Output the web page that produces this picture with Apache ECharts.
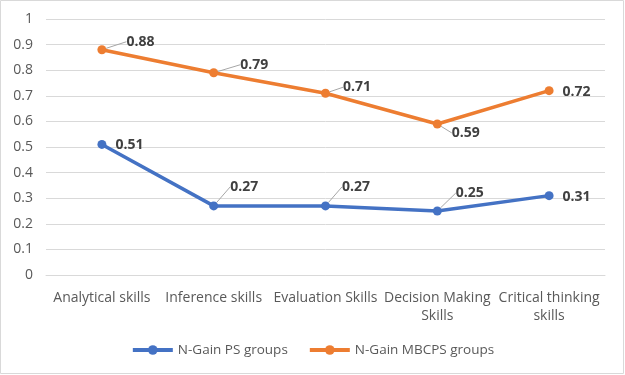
<!DOCTYPE html>
<html><head><meta charset="utf-8">
<script src="https://cdn.jsdelivr.net/npm/echarts@6/dist/echarts.min.js"></script>
<style>html,body{margin:0;padding:0;background:#fff}#c{width:625px;height:375px}</style>
</head><body><div id="c"></div>
<script>
const categories = ['Analytical skills','Inference skills','Evaluation Skills','Decision Making\nSkills','Critical thinking\nskills'];
const psValues = [0.51, 0.27, 0.27, 0.25, 0.31];
const mbcpsValues = [0.88, 0.79, 0.71, 0.59, 0.72];
const yTicks = [0,0.1,0.2,0.3,0.4,0.5,0.6,0.7,0.8,0.9,1];

const font = 'Open Sans';
const chart = echarts.init(document.getElementById('c'), null, {renderer:'canvas'});
// label placement: [dx, dy, leader line shown]
const psPlace = [[0,1,false],[6,-19,true],[6,-19,true],[8,-18,true],[0,1,false]];
const mbPlace = [[14,-8,true],[16,-8,true],[7,-6,true],[4,9,true],[0,1,false]];
function mkData(vals, place){
  return vals.map((v,i) => ({value:v,
    label:{distance: place[i][2] ? 6 : 9},
    labelLine:{show: place[i][2]}}));
}
function mkLayout(place){
  return function(p){ const o = place[p.dataIndex]; return {dx:o[0], dy:o[1]}; };
}
const labelStyle = {show:true, position:'right', distance:6, color:'#404040', fontFamily:font, fontSize:14, fontWeight:'bold', formatter: p => String(p.value)};
chart.setOption({
  animation:false,
  textStyle:{fontFamily:font},
  graphic:[{type:'rect', shape:{x:0.5,y:0.5,width:623,height:373}, style:{fill:'none', stroke:'#d9d9d9', lineWidth:1}}],
  grid:{left:46, right:20, top:19, bottom:100},
  legend:{bottom:13, left:'center', itemWidth:40, itemHeight:12, itemGap:20,
    lineStyle:{width:4},
    textStyle:{color:'#595959', fontSize:13.5, fontFamily:font},
    data:['N-Gain PS groups','N-Gain MBCPS groups']},
  xAxis:{type:'category', data:categories, boundaryGap:true,
    axisLine:{show:true, lineStyle:{color:'#d9d9d9'}}, axisTick:{show:false},
    axisLabel:{color:'#595959', fontSize:14, fontFamily:font, margin:14, lineHeight:18, interval:0}},
  yAxis:{type:'value', min:0, max:1, interval:0.1,
    axisLine:{show:false}, axisTick:{show:false},
    splitLine:{lineStyle:{color:'#d9d9d9', width:1}},
    axisLabel:{color:'#595959', fontSize:14, fontFamily:font, margin:13,
      formatter: v => { const s = yTicks.find(t => Math.abs(t - v) < 1e-9); return s === undefined ? '' : String(s); }}},
  series:[
    {name:'N-Gain PS groups', type:'line', data:mkData(psValues, psPlace), color:'#4472C4',
      lineStyle:{width:3.5}, symbol:'circle', symbolSize:9, itemStyle:{color:'#4472C4'},
      label:labelStyle, labelLayout:mkLayout(psPlace),
      labelLine:{show:true, lineStyle:{color:'#a6a6a6', width:1}}},
    {name:'N-Gain MBCPS groups', type:'line', data:mkData(mbcpsValues, mbPlace), color:'#ED7D31',
      lineStyle:{width:3.5}, symbol:'circle', symbolSize:9, itemStyle:{color:'#ED7D31'},
      label:labelStyle, labelLayout:mkLayout(mbPlace),
      labelLine:{show:true, lineStyle:{color:'#a6a6a6', width:1}}}
  ]
});
</script></body></html>
